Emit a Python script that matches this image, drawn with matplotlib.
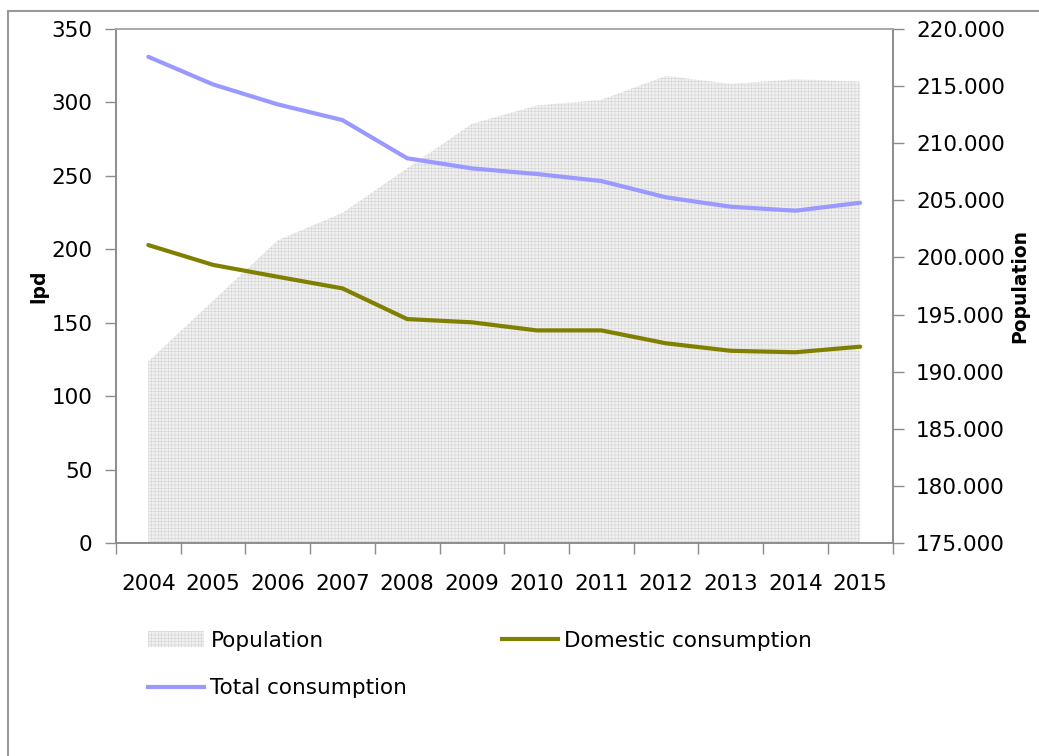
import matplotlib
matplotlib.use("Agg")
import matplotlib.pyplot as plt
from matplotlib.patches import Rectangle, Patch
from matplotlib.lines import Line2D
from matplotlib.ticker import FuncFormatter, MultipleLocator

years = ["2004", "2005", "2006", "2007", "2008", "2009",
         "2010", "2011", "2012", "2013", "2014", "2015"]
population = [190900, 196200, 201500, 203900, 207800, 211700,
              213300, 213800, 215900, 215200, 215600, 215400]
total_lpd = [331.1, 312.3, 298.7, 288.0, 262.0, 255.1,
             251.3, 246.5, 235.4, 229.0, 226.3, 231.7]
domestic_lpd = [202.9, 189.4, 181.3, 173.4, 152.5, 150.3,
                144.8, 144.8, 136.0, 130.9, 129.9, 133.7]

plt.rcParams['font.family'] = ['DejaVu Sans']
plt.rcParams['hatch.linewidth'] = 0.4
plt.rcParams['hatch.color'] = '#d4d4d4'

axis_col = '#8c8c8c'
fs = 15.5

fig = plt.figure(figsize=(10.39, 7.56), dpi=100)
ax = fig.add_axes([0.1116, 0.2817, 0.7474, 0.6799])
ax2 = ax.twinx()

x = list(range(len(years)))

# population area on the right axis, drawn behind the lines
ax2.fill_between(x, population, 175000, facecolor='#f0f0f0',
                 edgecolor='#d4d4d4', hatch='+' * 5, linewidth=0)
ax.set_zorder(ax2.get_zorder() + 1)
ax.patch.set_visible(False)

ax.plot(x, domestic_lpd, color='#808000', lw=3, solid_capstyle='round')
ax.plot(x, total_lpd, color='#9999ff', lw=3, solid_capstyle='round')

ax.set_xlim(-0.5, len(years) - 0.5)
ax.set_ylim(0, 350)
ax.yaxis.set_major_locator(MultipleLocator(50))
ax2.set_ylim(175000, 220000)
ax2.yaxis.set_major_locator(MultipleLocator(5000))
ax2.yaxis.set_major_formatter(
    FuncFormatter(lambda v, p: f"{v:,.0f}".replace(',', '.')))

# ticks between the categories, labels centred on them
ax.set_xticks([i - 0.5 for i in range(len(years) + 1)])
ax.set_xticklabels([])
ax.set_xticks(x, minor=True)
ax.set_xticklabels(years, minor=True)
ax.tick_params(axis='x', which='minor', length=0, pad=22, labelsize=fs)
ax.tick_params(axis='x', which='major', length=8, width=1, color=axis_col)
ax.tick_params(axis='y', length=8, width=1, color=axis_col, pad=9,
               labelsize=fs)
ax2.tick_params(axis='y', length=8, width=1, color=axis_col, pad=9,
                labelsize=fs)

for a in (ax, ax2):
    for s in a.spines.values():
        s.set_color(axis_col)
        s.set_linewidth(1.2)
    a.spines['top'].set_color('#aaaaaa')

ax.set_ylabel('lpd', fontsize=13.5, fontweight='bold', labelpad=2)
ax2.set_ylabel('Population', fontsize=13.5, fontweight='bold', labelpad=4)

handles = [Patch(facecolor='#f0f0f0', edgecolor='#d4d4d4', hatch='+' * 5,
                 linewidth=0),
           Line2D([], [], color='#9999ff', lw=3),
           Line2D([], [], color='#808000', lw=3)]
labels = ['Population', 'Total consumption', 'Domestic consumption']
fig.legend(handles, labels, ncol=2, loc='upper left',
           bbox_to_anchor=(148 / 1039, 0.166), frameon=False,
           fontsize=fs, borderpad=0, borderaxespad=0, handlelength=2.6,
           handleheight=0.7, handletextpad=0.3, columnspacing=4.4,
           labelspacing=1.28)

# outer chart border
fig.patches.append(Rectangle((8 / 1039, -0.1), 1.2, 0.9854 + 0.1,
                             transform=fig.transFigure, fill=False,
                             edgecolor='#999999', lw=1.5))

fig.savefig('out.png', dpi=100)
